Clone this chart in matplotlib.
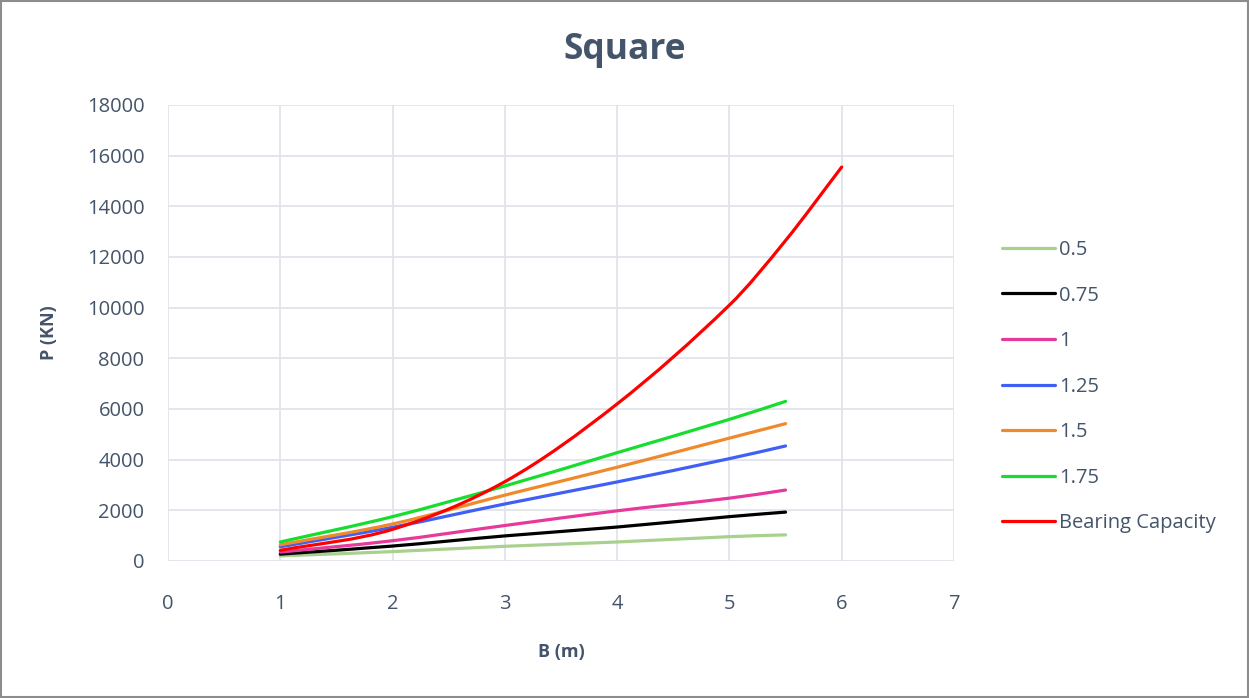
import numpy as np
import matplotlib
matplotlib.use("Agg")
import matplotlib.pyplot as plt
from matplotlib.path import Path
from matplotlib.patches import PathPatch, Rectangle
from matplotlib.lines import Line2D

# data
B = [1, 2, 3, 4, 5, 5.5]
p_050 = [200, 370, 580, 750, 960, 1030]
p_075 = [270, 590, 990, 1340, 1750, 1930]
p_100 = [350, 800, 1400, 1980, 2480, 2800]
p_125 = [560, 1330, 2250, 3120, 4040, 4540]
p_150 = [640, 1460, 2600, 3700, 4850, 5420]
p_175 = [750, 1750, 2960, 4275, 5590, 6300]
B_cap = [1, 2, 3, 4, 5, 5.5, 6]
p_cap = [420, 1250, 3130, 6200, 10100, 12650, 15550]

labels = ["0.5", "0.75", "1", "1.25", "1.5", "1.75", "Bearing Capacity"]
colors = ["#A9D18E", "#000000", "#E7399B", "#3F5FF5", "#F0892A", "#16DD2E", "#FF0000"]

TXT = "#44546A"
FONT = "Open Sans"
LW = 2.3


# smoothed line like excel: cubic bezier segments through every point
def smooth_path(xs, ys):
    x = np.asarray(xs, float)
    y = np.asarray(ys, float)
    n = len(x)
    s = np.empty(n)
    s[0] = (y[1] - y[0]) / (x[1] - x[0])
    s[-1] = (y[-1] - y[-2]) / (x[-1] - x[-2])
    s[1:-1] = (y[2:] - y[:-2]) / (x[2:] - x[:-2])
    verts = [(x[0], y[0])]
    codes = [Path.MOVETO]
    for i in range(n - 1):
        h = x[i + 1] - x[i]
        verts += [(x[i] + h / 3, y[i] + s[i] * h / 3),
                  (x[i + 1] - h / 3, y[i + 1] - s[i + 1] * h / 3),
                  (x[i + 1], y[i + 1])]
        codes += [Path.CURVE4] * 3
    return Path(verts, codes)


fig = plt.figure(figsize=(12.49, 6.98), dpi=100)
ax = fig.add_axes([0.1345, 0.1963, 0.6293, 0.6533])

series = [(B, p_050), (B, p_075), (B, p_100), (B, p_125), (B, p_150), (B, p_175),
          (B_cap, p_cap)]
handles = []
for (xs, ys), c, lab in zip(series, colors, labels):
    ax.add_patch(PathPatch(smooth_path(xs, ys), facecolor="none", edgecolor=c,
                           lw=LW, capstyle="round", zorder=3))
    handles.append(Line2D([], [], color=c, lw=LW, solid_capstyle="round", label=lab))

ax.set_xlim(0, 7)
ax.set_ylim(0, 18000)
ax.set_xticks(range(0, 8))
ax.set_yticks(range(0, 18001, 2000))
ax.grid(True, color="#E1E4EA", lw=1.3, zorder=0)
ax.set_axisbelow(True)
for s in ax.spines.values():
    s.set_visible(False)
ax.tick_params(axis="both", length=0, labelsize=14.5, labelcolor=TXT)
ax.tick_params(axis="x", pad=24)
ax.tick_params(axis="y", pad=17)
for t in ax.get_xticklabels() + ax.get_yticklabels():
    t.set_fontfamily(FONT)

ax.set_xlabel("B (m)", fontsize=13, fontweight="bold", color=TXT, family=FONT, labelpad=21)
ax.set_ylabel("P (KN)", fontsize=13, fontweight="bold", color=TXT, family=FONT, labelpad=21)

fig.text(0.5, 0.929, "Square", ha="center", va="center", fontsize=25.5,
         fontweight="bold", color=TXT, family=FONT)

fig.legend(handles=handles, loc="center left", bbox_to_anchor=(0.794, 0.446),
           frameon=False, prop={"family": FONT, "size": 14.5}, labelcolor=TXT,
           handlelength=2.65, handletextpad=0.2, labelspacing=1.27, borderpad=0)

fig.add_artist(Rectangle((0.0012, 0.002), 0.9976, 0.996, transform=fig.transFigure,
                         fill=False, edgecolor="#8C8C8C", lw=1.5))

fig.savefig("out.png", dpi=100)
